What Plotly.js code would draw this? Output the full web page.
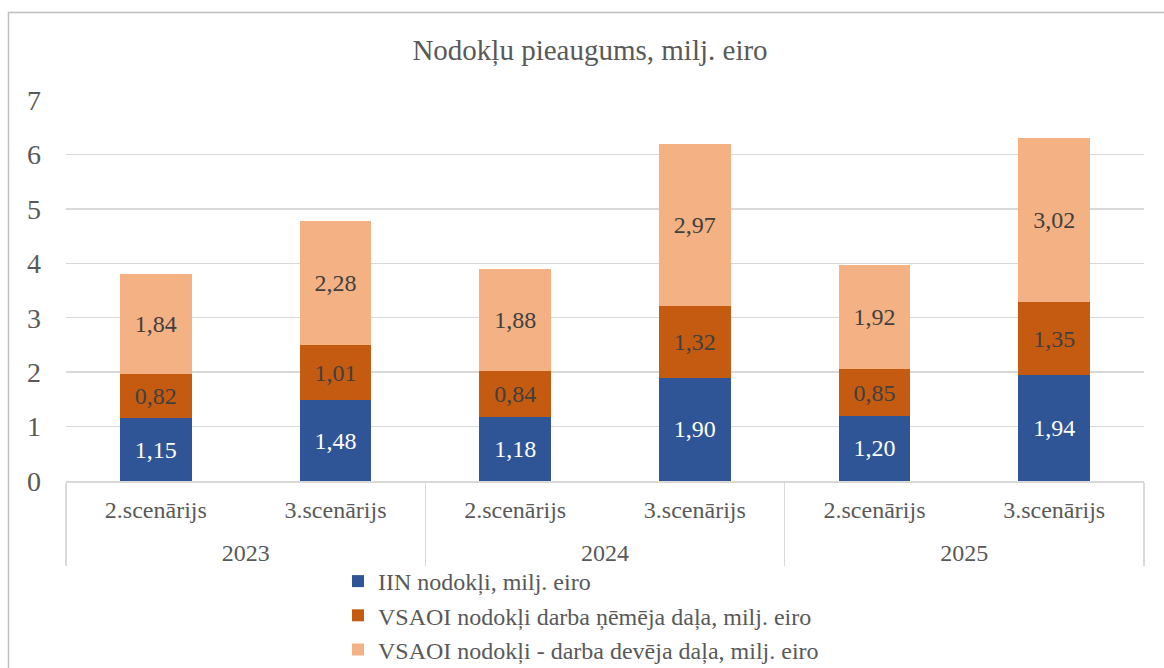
<!DOCTYPE html>
<html>
<head>
<meta charset="utf-8">
<script src="https://cdn.plot.ly/plotly-3.0.1.min.js"></script>
<style>html,body{margin:0;padding:0;background:#fff;}#chart{width:1164px;height:668px;}</style>
</head>
<body>
<div id="chart"></div>
<script>
var years = ['2023', '2023', '2024', '2024', '2025', '2025'];
var scenarios = ['2.scenārijs', '3.scenārijs', '2.scenārijs', '3.scenārijs', '2.scenārijs', '3.scenārijs'];
var seriesNames = ['IIN nodokļi, milj. eiro', 'VSAOI nodokļi darba ņēmēja daļa, milj. eiro', 'VSAOI nodokļi - darba devēja daļa, milj. eiro'];
var iin = [1.15, 1.48, 1.18, 1.90, 1.20, 1.94];
var vsaoiEmployee = [0.82, 1.01, 0.84, 1.32, 0.85, 1.35];
var vsaoiEmployer = [1.84, 2.28, 1.88, 2.97, 1.92, 3.02];
var colors = ['#2F5597', '#C55A11', '#F4B183'];
var labelColors = ['#ffffff', '#404040', '#404040'];

var FONT = '"Liberation Serif", "Times New Roman", serif';
function fmt(v){ return v.toFixed(2).replace('.', ','); }
function big(s){ return '<span style="font-size:24px">' + s + '</span>'; }
// category labels built from the arrays above (outer level pushed one short line lower)
var yearLabels = years.map(function(y){ return '<br>' + big(y); });
var scenarioLabels = scenarios.map(big);

var all = [iin, vsaoiEmployee, vsaoiEmployer];
var traces = all.map(function(vals, i){
  return {
    type: 'bar',
    name: seriesNames[i],
    x: [yearLabels, scenarioLabels],
    y: vals,
    text: vals.map(fmt),
    texttemplate: '%{text}',
    textposition: 'inside',
    insidetextanchor: 'middle',
    textangle: 0,
    constraintext: 'none',
    textfont: {family: FONT, size: 24, color: labelColors[i]},
    marker: {color: colors[i], line: {width: 0}},
    hoverinfo: 'skip'
  };
});

var layout = {
  width: 1164, height: 668,
  barmode: 'stack',
  bargap: 0.6,
  paper_bgcolor: '#ffffff',
  plot_bgcolor: '#ffffff',
  font: {family: FONT, size: 24, color: '#595959'},
  margin: {l: 66, r: 20, t: 100, b: 187, pad: 0},
  title: {text: 'Nodokļu pieaugums, milj. eiro', font: {family: FONT, size: 29, color: '#595959'}, x: 590/1164, xanchor: 'center', y: 1 - 50/668, yanchor: 'middle'},
  xaxis: {
    type: 'multicategory',
    automargin: false,
    showline: true, linecolor: '#d9d9d9', linewidth: 1.5,
    showgrid: false,
    showdividers: true, dividercolor: '#d9d9d9', dividerwidth: 1.5,
    tickfont: {family: FONT, size: 20, color: '#595959'},
    ticklabelstandoff: 11,
    ticks: ''
  },
  yaxis: {
    range: [0, 7],
    dtick: 1,
    automargin: false,
    showgrid: true, gridcolor: '#d9d9d9', gridwidth: 1.5,
    zeroline: false,
    showline: false,
    ticks: '',
    ticklabelstandoff: 24,
    tickfont: {family: FONT, size: 28, color: '#595959'}
  },
  legend: {
    orientation: 'v',
    traceorder: 'normal',
    xref: 'paper', yref: 'container',
    x: (338 - 66) / 1078, xanchor: 'left',
    y: 1 - 559/668, yanchor: 'top',
    font: {family: FONT, size: 24, color: '#595959'},
    bgcolor: 'rgba(0,0,0,0)',
    tracegroupgap: 0
  },
  shapes: [{
    type: 'rect', xref: 'paper', yref: 'paper',
    x0: (8.5 - 66) / 1078, x1: 1.3,
    y0: (481 - 12.5) / 381, y1: -1,
    line: {color: '#bfbfbf', width: 1.5},
    fillcolor: 'rgba(0,0,0,0)',
    layer: 'below'
  }],
  showlegend: true
};

Plotly.newPlot('chart', traces, layout, {displayModeBar: false, staticPlot: true});
</script>
</body>
</html>
